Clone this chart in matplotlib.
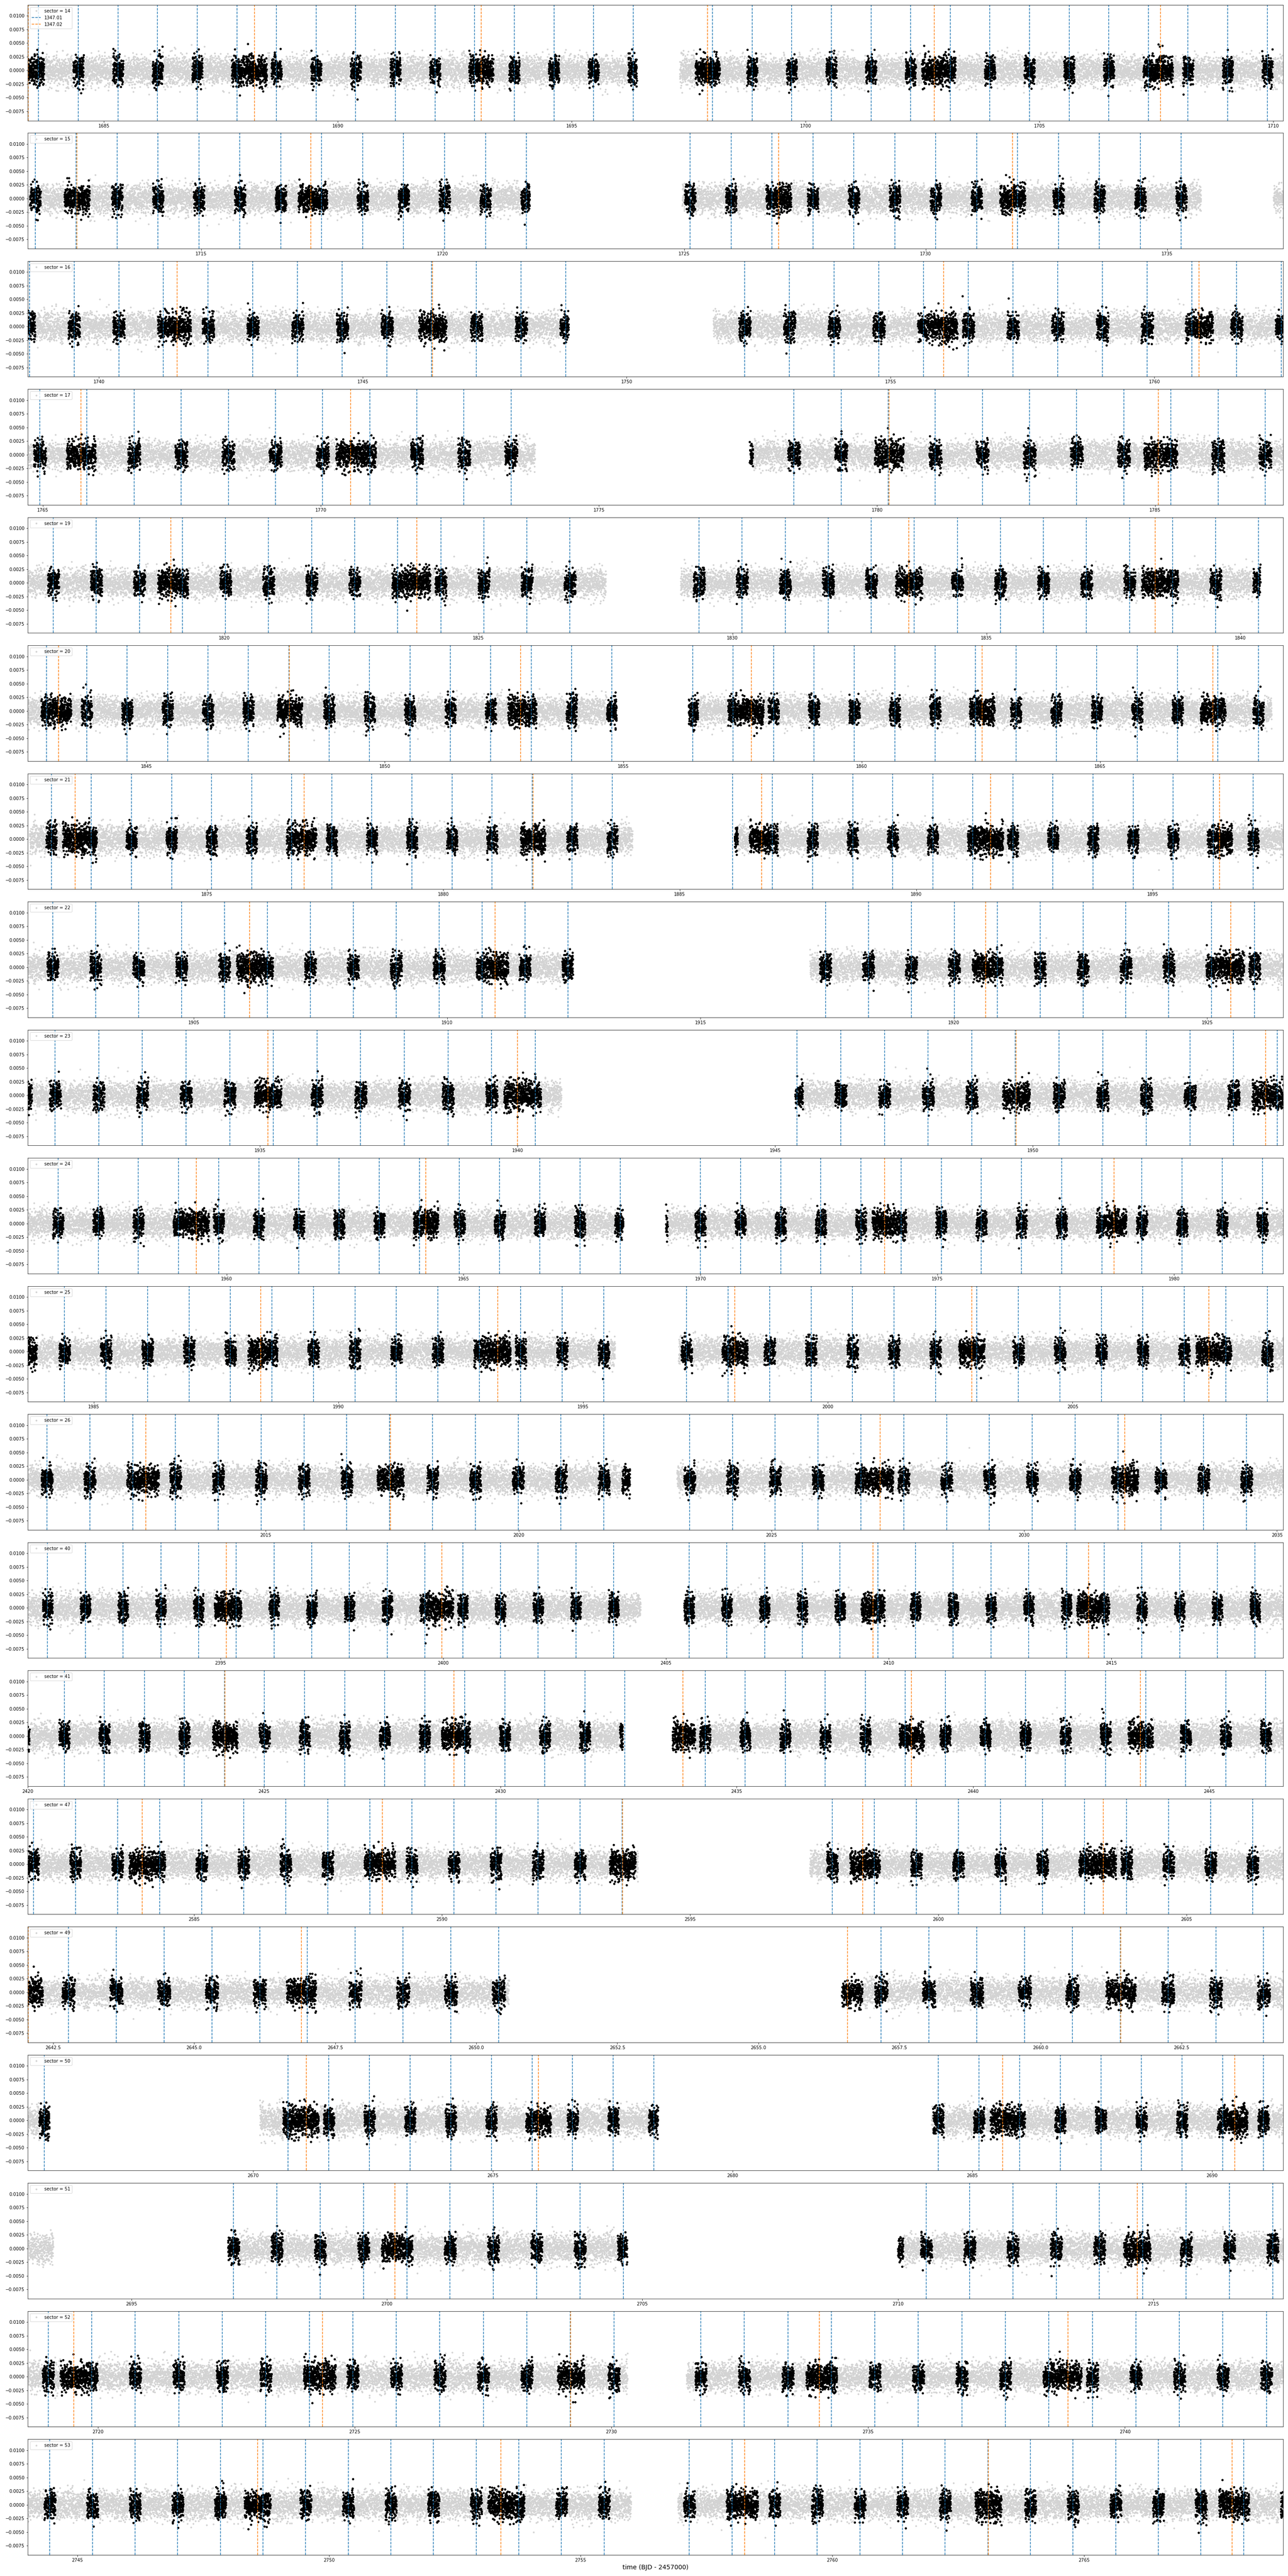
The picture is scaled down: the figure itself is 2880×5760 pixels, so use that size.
import numpy as np
import matplotlib.pyplot as plt

# one panel per TESS sector
sectors = [14, 15, 16, 17, 19, 20, 21, 22, 23, 24, 25, 26, 40, 41, 47, 49, 50, 51, 52, 53]

# x-limits of each panel (BJD - 2457000)
x_start = [1683.37, 1711.41, 1738.65, 1764.73, 1816.13, 1842.51, 1871.21, 1901.72, 1930.49, 1955.80,
           1983.65, 2010.29, 2390.67, 2420.00, 2581.65, 2642.05, 2665.30, 2692.97, 2718.63, 2744.01]
x_end = [1710.21, 1737.40, 1762.44, 1787.30, 1840.84, 1868.84, 1897.76, 1926.50, 1954.86, 1982.30,
         2009.30, 2035.12, 2418.86, 2446.56, 2606.95, 2664.30, 2691.48, 2717.54, 2743.08, 2768.96]

# stretches of each sector that actually have photometry (start, end)
segments = [
    [(1683.37, 1696.39), (1697.31, 1710.21)],
    [(1711.41, 1721.80), (1724.96, 1735.70), (1737.20, 1737.40)],
    [(1738.65, 1748.90), (1751.64, 1762.44)],
    [(1764.73, 1773.85), (1777.71, 1787.30)],
    [(1816.13, 1827.51), (1828.98, 1840.39)],
    [(1842.51, 1854.86), (1856.37, 1868.60)],
    [(1871.25, 1884.00), (1886.16, 1897.76)],
    [(1901.72, 1912.48), (1917.16, 1926.50)],
    [(1930.49, 1940.85), (1945.39, 1954.86)],
    [(1955.80, 1968.37), (1969.27, 1982.30)],
    [(1983.65, 1995.65), (1996.95, 2009.30)],
    [(2010.29, 2022.20), (2023.13, 2035.12)],
    [(2390.67, 2404.43), (2405.40, 2418.86)],
    [(2420.00, 2432.59), (2433.64, 2446.56)],
    [(2581.65, 2593.95), (2597.41, 2606.95)],
    [(2642.05, 2650.58), (2656.48, 2664.30)],
    [(2665.30, 2665.75), (2670.14, 2678.44), (2684.15, 2691.48)],
    [(2692.99, 2693.47), (2696.88, 2704.70), (2710.00, 2717.54)],
    [(2718.63, 2730.31), (2731.46, 2743.08)],
    [(2744.01, 2756.00), (2756.93, 2768.96)],
]

# candidate ephemerides (period, mid-transit epoch) and half-width of the in-transit window
toi_names = ['1347.01', '1347.02']
periods = [0.84732, 4.8418]
epochs = [1683.605, 1683.38]
win_half = [0.11, 0.26]
line_colors = ['C0', 'C1']

cadence = 2.0 / 60.0 / 24.0   # 2-min cadence
flux_scatter = 0.0013         # rms of the detrended flux

rng = np.random.default_rng(1347)

fig, axes = plt.subplots(len(sectors), 1, figsize=(40, 80), dpi=72)
fig.subplots_adjust(left=0.0215, right=0.9962, top=0.9981, bottom=0.0082, hspace=0.108)

for i, ax in enumerate(axes):
    segs = segments[i]
    t = np.concatenate([np.arange(a, b, cadence) for a, b in segs])
    f = rng.normal(0.0, flux_scatter, t.size)

    # points near a predicted transit of either candidate
    in_tr = np.zeros(t.size, dtype=bool)
    for P, T0, w in zip(periods, epochs, win_half):
        ph = (t - T0 + 0.5 * P) % P - 0.5 * P
        in_tr |= np.abs(ph) < w

    ax.plot(t, f, '.', color='lightgray', ms=6, label='sector = %d' % sectors[i])
    ax.plot(t[in_tr], f[in_tr], '.', color='k', ms=8)

    # predicted transits that fall on data
    for j in range(len(periods)):
        P, T0 = periods[j], epochs[j]
        n0 = int(np.ceil((x_start[i] - T0) / P))
        n1 = int(np.floor((x_end[i] - T0) / P))
        first = True
        for n in range(n0, n1 + 1):
            tt = T0 + n * P
            if not any(a - 0.05 <= tt <= b + 0.05 for a, b in segs):
                continue
            lab = toi_names[j] if (i == 0 and first) else None
            ax.axvline(tt, color=line_colors[j], ls='--', label=lab)
            first = False

    ax.set_xlim(x_start[i], x_end[i])
    ax.set_ylim(-0.0092, 0.0120)
    ax.legend(loc='upper left')

axes[-1].set_xlabel('time (BJD - 2457000)', fontsize=14)

fig.savefig('out.png', dpi=72)
